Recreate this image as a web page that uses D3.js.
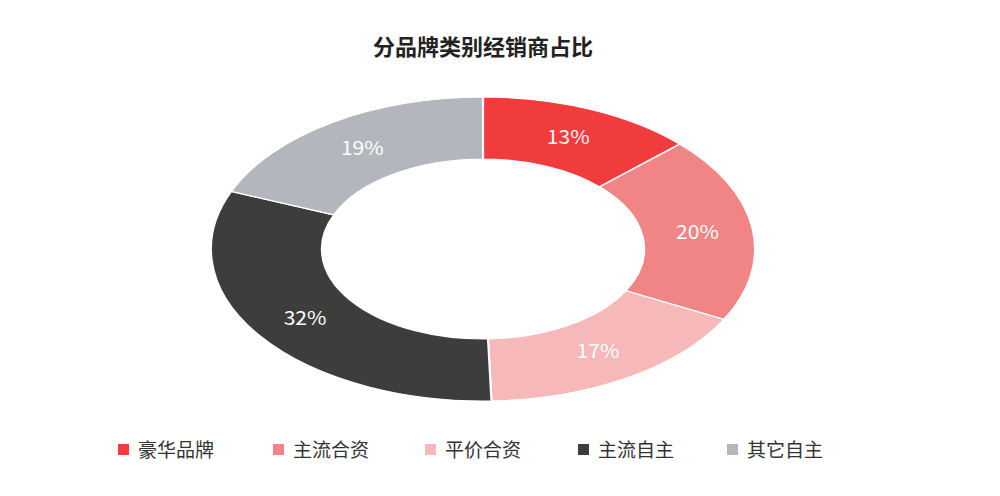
<!DOCTYPE html>
<html><head><meta charset="utf-8">
<script src="https://cdn.jsdelivr.net/npm/d3@7"></script>
<style>body{margin:0;background:#fff;font-family:"Noto Sans CJK SC","Noto Sans",sans-serif}</style>
</head><body>
<svg id="chart" width="1000" height="496"></svg>
<script>
// brand categories and their shares
var categories = ["豪华品牌", "主流合资", "平价合资", "主流自主", "其它自主"];
var shares = [13, 20, 17, 32, 19];
var colors = ["#f03c3c", "#f18585", "#f6b8b8", "#3d3d3d", "#b3b6bd"];

var svg = d3.select("#chart");

svg.append("text").attr("x", 483).attr("y", 55)
  .attr("text-anchor", "middle").attr("font-size", 22).attr("font-weight", "bold")
  .attr("fill", "#222").text("分品牌类别经销商占比");

// the picture is stretched sideways, so draw a circle and scale it on x
var outerR = 152, innerR = 90;
var g = svg.append("g").attr("transform", "translate(483,249) scale(1.79,1)");

var pie = d3.pie().sort(null)(shares);
var arc = d3.arc().innerRadius(innerR).outerRadius(outerR);

g.selectAll("path").data(pie).enter().append("path")
  .attr("d", arc)
  .attr("fill", (d, i) => colors[i])
  .attr("stroke", "#fff").attr("stroke-width", 1.2);

var labelArc = d3.arc().innerRadius((innerR + outerR) / 2).outerRadius((innerR + outerR) / 2);
g.selectAll("text").data(pie).enter().append("text")
  .attr("transform", d => "translate(" + labelArc.centroid(d) + ") scale(0.62,1)")
  .attr("text-anchor", "middle").attr("dy", "0.35em")
  .attr("font-size", 19).attr("fill", "#fff")
  .text(d => d.data + "%");

// legend
var legendX = [118, 273, 425, 578, 727];
var lg = svg.selectAll(".lg").data(categories).enter().append("g")
  .attr("transform", (d, i) => "translate(" + legendX[i] + ",450)");
lg.append("rect").attr("x", 0).attr("y", -6).attr("width", 11).attr("height", 11)
  .attr("fill", (d, i) => colors[i]);
lg.append("text").attr("x", 20).attr("dy", "0.35em")
  .attr("font-size", 19).attr("fill", "#333").text(d => d);
</script>
</body></html>
